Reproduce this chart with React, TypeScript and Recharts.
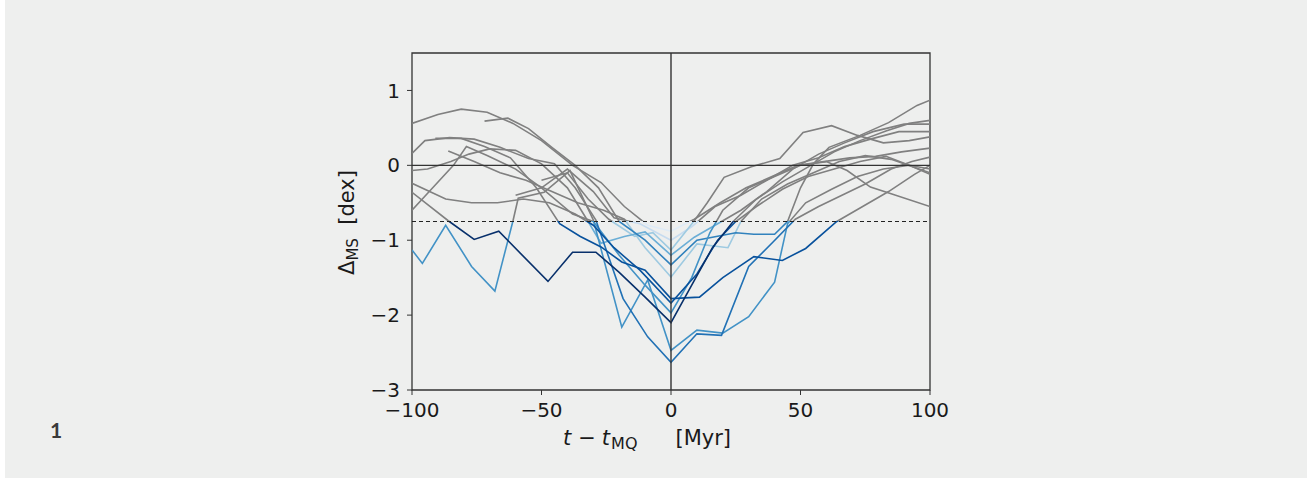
import React from 'react';
import { LineChart, Line, XAxis, YAxis, ReferenceLine, ReferenceArea } from 'recharts';

// time since main quenching [Myr] vs. distance to main sequence [dex], one track per galaxy
const galaxyF = [[-100, 0.56], [-90, 0.68], [-81, 0.75], [-71, 0.71], [-61, 0.56], [-50, 0.33], [-38, 0.0], [-27, -0.23], [-18, -0.55], [-9, -0.8], [0, -0.88], [9, -0.72], [19, -0.5], [29, -0.3], [39, -0.15], [49, 0.0], [59, 0.05], [69, 0.1], [79, 0.12], [89, 0.18], [100, 0.23]];
const galaxyK = [[-60, -0.4], [-50, -0.3], [-40, -0.05], [-30, -0.35], [-22, -0.7], [-12, -0.78], [0, -1.0], [8, -0.82], [17, -0.55], [27, -0.4], [37, -0.2], [47, 0.0], [57, 0.1], [67, 0.25], [77, 0.35], [88, 0.45], [100, 0.45]];
const galaxyG = [[-86, 0.19], [-76, 0.05], [-66, -0.1], [-56, -0.2], [-46, -0.35], [-36, -0.5], [-26, -0.6], [-18, -0.72], [-10, -1.1], [0, -1.49], [10, -1.05], [22, -1.1], [27, -0.75], [35, -0.45], [45, -0.25], [55, -0.1], [65, 0.05], [75, 0.13], [85, 0.08], [100, -0.1]];
const galaxyL = [[-50, -0.2], [-40, -0.1], [-32, -0.45], [-24, -0.72], [-14, -0.95], [-7, -0.9], [0, -1.13], [9, -0.74], [14, -0.5], [20.5, -0.16], [31, -0.02], [42, 0.09], [51, 0.44], [62, 0.53], [72, 0.4], [82, 0.3], [92, 0.33], [100, 0.38]];
const galaxyE = [[-100, -0.07], [-94, -0.05], [-85, 0.05], [-78, 0.15], [-70, 0.22], [-60, 0.2], [-50, 0.02], [-40, -0.3], [-32, -0.75], [-27, -1.04], [-18, -0.95], [-10, -0.89], [0, -1.2], [9, -0.96], [18, -0.78], [27, -0.6], [37, -0.35], [47, -0.05], [57, 0.15], [67, 0.3], [78, 0.45], [90, 0.55], [100, 0.55]];
const galaxyI = [[-72, 0.59], [-63, 0.63], [-55, 0.49], [-46, 0.24], [-37, 0.0], [-28, -0.3], [-20, -0.75], [-10, -1.0], [0, -1.33], [10, -1.0], [25, -0.9], [32, -0.92], [40, -0.92], [45, -0.75], [50, -0.3], [55, 0.02], [61, 0.24], [73, 0.4], [84, 0.57], [95, 0.8], [100, 0.87]];
const galaxyB = [[-100, -1.13], [-96, -1.31], [-87, -0.8], [-77, -1.35], [-68, -1.68], [-61, -0.74], [-59, -0.44], [-49, -0.36], [-39, -0.07], [-30, -0.73], [-19, -2.16], [-9, -1.53], [0, -2.47], [10, -2.2], [20, -2.24], [30, -2.02], [40, -1.56], [45, -0.78], [52, -0.5], [62, -0.32], [72, -0.15], [82, -0.05], [92, 0.0], [100, -0.12]];
const galaxyH = [[-100, -0.6], [-92, -0.3], [-84, 0.0], [-79, 0.25], [-71, 0.13], [-60, -0.05], [-50, -0.3], [-38, -0.65], [-30, -0.75], [-20, -1.2], [-10, -1.6], [0, -1.97], [8, -1.5], [15, -0.9], [20, -0.6], [30, -0.3], [40, -0.15], [50, 0.0], [60, 0.05], [68, -0.07], [77, -0.29], [85, -0.38], [100, -0.55]];
const galaxyC = [[-100, 0.16], [-95, 0.33], [-85.5, 0.37], [-76, 0.35], [-66, 0.24], [-55, 0.09], [-45, 0.02], [-37, -0.3], [-29, -0.73], [-18.5, -1.78], [-9, -2.29], [0, -2.63], [10, -2.25], [19.5, -2.27], [30, -1.35], [39.5, -1.02], [48, -0.72], [57, -0.55], [66, -0.4], [75, -0.25], [85, -0.05], [93, 0.05], [100, 0.11]];
const galaxyJ = [[-100, -0.24], [-87, -0.45], [-77, -0.5], [-67, -0.5], [-57, -0.45], [-47, -0.5], [-37, -0.65], [-30, -0.8], [-22, -1.1], [-12, -1.4], [0, -1.84], [10, -1.45], [18, -1.0], [25, -0.75], [33, -0.55], [43, -0.32], [53, -0.15], [63, -0.05], [73, 0.05], [83, 0.12], [92, 0.0], [100, -0.05]];
const galaxyD = [[-91, 0.36], [-81, 0.36], [-72, 0.25], [-62, 0.1], [-52, -0.3], [-43, -0.78], [-35, -0.95], [-27, -1.09], [-19, -1.29], [-10, -1.4], [0, -1.78], [11, -1.76], [20, -1.5], [32, -1.22], [43, -1.27], [52, -1.11], [64, -0.75], [74, -0.55], [84, -0.35], [94, -0.12], [100, 0.0]];
const galaxyA = [[-100, -0.36], [-86, -0.74], [-76, -0.99], [-66.5, -0.88], [-47.5, -1.55], [-38, -1.16], [-29, -1.16], [-20, -1.43], [-10, -1.76], [0, -2.1], [8, -1.6], [16, -1.1], [24, -0.75], [33, -0.45], [43, -0.22], [53, -0.02], [63, 0.18], [73, 0.33], [83, 0.46], [92, 0.56], [100, 0.6]];

const tracks = [galaxyF, galaxyK, galaxyG, galaxyL, galaxyE, galaxyI, galaxyB, galaxyH, galaxyC, galaxyJ, galaxyD, galaxyA];
const trackColors = ['#deebf7', '#c6dbef', '#9ecae1', '#9ecae1', '#6baed6', '#3182bd', '#4292c6', '#4292c6', '#2171b5', '#08519c', '#08519c', '#08306b'];

const xTicks = [-100, -50, 0, 50, 100];
const yTicks = [-3, -2, -1, 0, 1];
const quenchLevel = -0.75;

const Y_MIN = -3;
const Y_MAX = 1.5;
const PLOT_TOP = 53;
const PLOT_BOTTOM = 390;
const FONT = 'DejaVu Sans';
const INK = '#1a1a1a';

const fmt = (v: number) => (v < 0 ? '\u2212' + Math.abs(v) : String(v));

const XLabel = (props: any) => {
  const vb = props.viewBox || { x: 412, y: 390, width: 518 };
  const x0 = vb.x + 151;
  const y = vb.y + 55;
  return (
    <text x={x0} y={y} textAnchor="start" fontFamily={FONT} fontSize={21} fill={INK}>
      <tspan fontStyle="italic">t</tspan>
      <tspan dx={7}>{'\u2212'}</tspan>
      <tspan dx={6} fontStyle="italic">t</tspan>
      <tspan fontSize={16} dy={4} dx={1}>MQ</tspan>
      <tspan dy={-4} dx={38}>[Myr]</tspan>
    </text>
  );
};

const YLabel = (props: any) => {
  const vb = props.viewBox || { x: 342, y: 53, height: 337 };
  const cx = vb.x + 12;
  const cy = vb.y + vb.height / 2 + 1;
  return (
    <text x={cx} y={cy} textAnchor="middle" fontFamily={FONT} fontSize={21} fill={INK} transform={`rotate(-90, ${cx}, ${cy})`}>
      <tspan>{'\u0394'}</tspan>
      <tspan fontSize={15} dy={4}>MS</tspan>
      <tspan dy={-4}>{'\u00a0\u00a0[dex]'}</tspan>
    </text>
  );
};

const App = () => {
  const split = (Y_MAX - quenchLevel) / (Y_MAX - Y_MIN);
  return (
    <div style={{ position: 'absolute', left: 0, top: 0, width: 1312, height: 480, background: '#fff' }}>
      <div style={{ position: 'absolute', left: 5, top: 0, width: 1302, height: 478, background: '#eeefee' }} />
      <div style={{ position: 'absolute', left: 50, top: 417, fontFamily: 'Lato', fontWeight: 'bold', fontSize: 21, color: '#3a3a3a' }}>1</div>
      <div style={{ position: 'absolute', left: 0, top: 0 }}>
        <LineChart width={1312} height={480} margin={{ top: 53, right: 382, bottom: 50, left: 342 }}>
          <defs>
            {trackColors.map((c, i) => (
              <linearGradient key={i} id={`track-${i}`} gradientUnits="userSpaceOnUse" x1={0} y1={PLOT_TOP} x2={0} y2={PLOT_BOTTOM}>
                <stop offset={split} stopColor="#808080" />
                <stop offset={split} stopColor={c} />
              </linearGradient>
            ))}
          </defs>
          <XAxis
            dataKey="t"
            type="number"
            domain={[-100, 100]}
            ticks={xTicks}
            tickFormatter={fmt}
            axisLine={false}
            stroke="#333"
            tickSize={5}
            tickMargin={8}
            height={40}
            tick={{ fill: INK, fontSize: 20, fontFamily: FONT }}
            label={<XLabel />}
            allowDataOverflow
          />
          <YAxis
            type="number"
            domain={[Y_MIN, Y_MAX]}
            ticks={yTicks}
            tickFormatter={fmt}
            axisLine={false}
            stroke="#333"
            tickSize={5}
            tickMargin={7}
            width={70}
            tick={{ fill: INK, fontSize: 20, fontFamily: FONT }}
            label={<YLabel />}
            allowDataOverflow
          />
          {tracks.map((tr, i) => (
            <Line
              key={i}
              data={tr.map(([t, d]) => ({ t, d }))}
              dataKey="d"
              type="linear"
              stroke={`url(#track-${i})`}
              strokeWidth={1.6}
              dot={false}
              activeDot={false}
              isAnimationActive={false}
            />
          ))}
          <ReferenceLine x={0} stroke="#333" strokeWidth={1.4} />
          <ReferenceLine y={0} stroke="#333" strokeWidth={1.4} />
          <ReferenceLine y={quenchLevel} stroke="#222" strokeWidth={1.2} strokeDasharray="4 3" />
          <ReferenceArea x1={-100} x2={100} y1={Y_MIN} y2={Y_MAX} fill="none" stroke="#333" strokeWidth={1.3} />
        </LineChart>
      </div>
    </div>
  );
};

export default App;
